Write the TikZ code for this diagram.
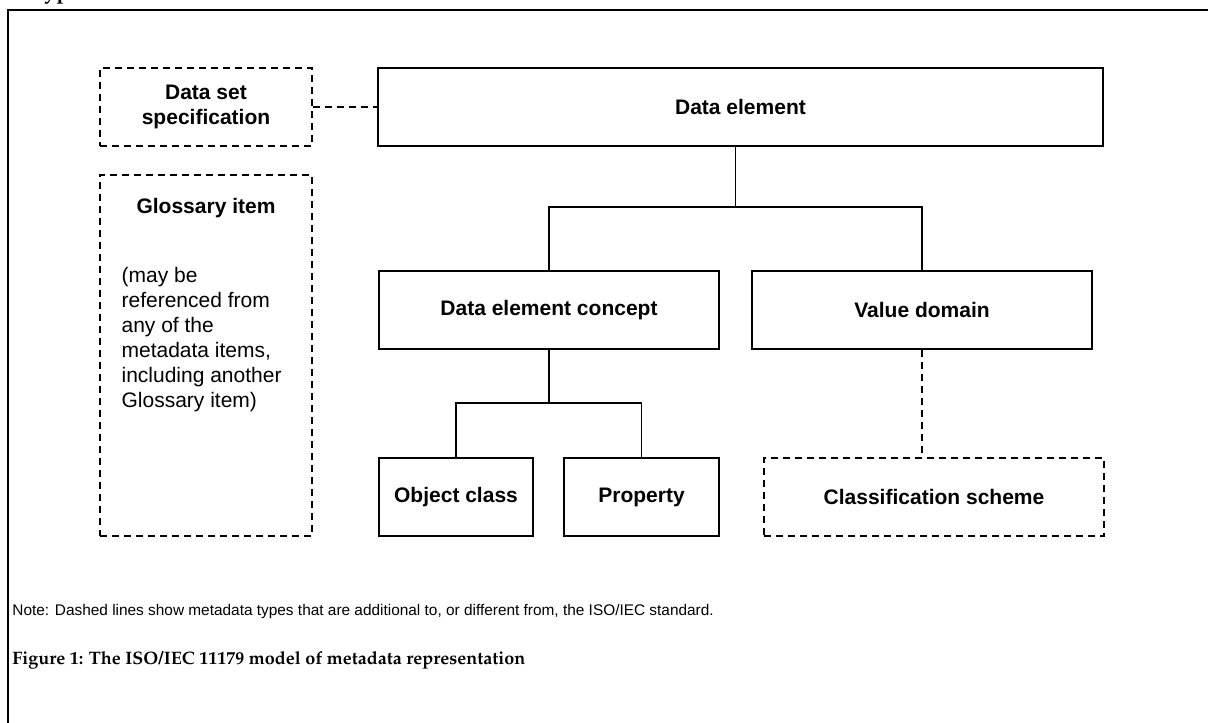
\documentclass[tikz,border=0pt]{standalone}
\usepackage[T1,TU]{fontenc}
\usepackage{fontspec}
\setmainfont{Liberation Sans}
\usetikzlibrary{positioning, calc}
\newcommand{\capfont}[1]{\fontencoding{T1}\fontfamily{ppl}\fontseries{b}\fontsize{#1}{#1}\selectfont}
\tikzstyle{Link} = [line width=0.8pt]
\tikzstyle{DashLink} = [Link, dashed, dash pattern=on 3.5pt off 2.5pt]

\begin{document}
\begin{tikzpicture}[
x=0.5pt, y=-0.5pt,
box/.style={
    rectangle,
    draw,
    line width=0.8pt,
    inner sep=0pt,
    align=center,
    minimum height=39pt,
    font=\fontsize{10.5}{12.5}\selectfont\bfseries
    },
dashbox/.style={box, dashed, dash pattern=on 3.5pt off 2.5pt},
txt/.style={inner sep=0pt}
]
\useasboundingbox (0,0) rectangle (1208,722);

\node [txt, anchor=base west, font=\capfont{11}] (hd) at (31,-1) {Types};
\draw [line width=1pt] (8,740) -- (8,10) -- (1220,10);

\node [dashbox, minimum width=106pt] (ds) at (206,107) {Data set\\specification};
\node [box, minimum width=362.5pt] (de) at (740.5,107) {Data element};

\node [dashbox, minimum width=106pt, minimum height=180.5pt] (gl) at (206,355.5) {};
\node [txt, below = 12pt of gl.north, font=\fontsize{10.5}{12.5}\selectfont\bfseries] (glt) {Glossary item};
\node [txt, anchor=north west, align=left, font=\fontsize{10.5}{12.5}\selectfont] (glb)
    at ([xshift=11pt, yshift=-46.5pt]gl.north west) {(may be\\referenced from\\any of the\\metadata items,\\including another\\Glossary item)};

\node [box, minimum width=170pt] (dec) at (549,310) {Data element concept};
\node [box, minimum width=170pt] (vd) at (922,310) {Value domain};

\node [box, minimum width=77pt] (oc) at (456,497) {Object class};
\node [box, minimum width=77.5pt] (pr) at (641.5,497) {Property};
\node [dashbox, minimum width=170pt] (cs) at (934,497) {Classification scheme};

\draw[DashLink] (ds.east) -- (de.west);

\coordinate (j1) at ($(dec.north)!0.5!(vd.north)+(0,-63)$);
\draw[Link] (dec.north) |- (j1) -| (vd.north);
\draw[Link] (j1) -- (j1 |- de.south);

\draw[Link] (dec.south) -- ++(0,53) coordinate (j2);
\draw[Link] (oc.north) |- (j2) -| (pr.north);

\draw[DashLink] (vd.south) -- (vd.south |- cs.north);

\node [txt, anchor=west, font=\fontsize{7.7}{9}\selectfont] (nt) at (12,612)
    {Note: Dashed lines show metadata types that are additional to, or different from, the ISO/IEC standard.};
\node [txt, anchor=west, font=\capfont{9}] (cap) at (12,660)
    {Figure 1: The ISO/IEC 11179 model of metadata representation};

\end{tikzpicture}
\end{document}
